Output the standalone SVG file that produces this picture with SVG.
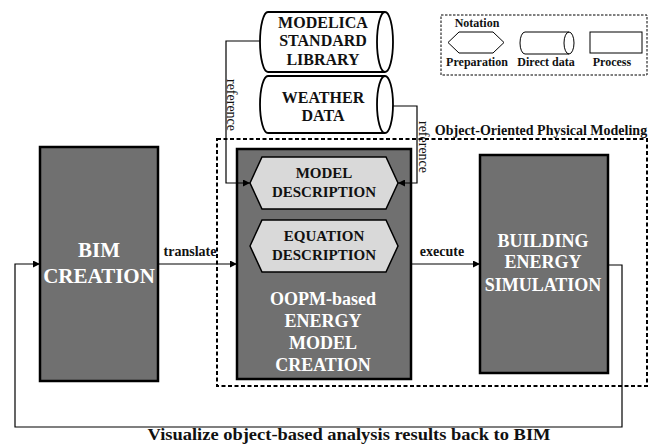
<svg xmlns="http://www.w3.org/2000/svg" width="656" height="444" viewBox="0 0 656 444">
<style>
.t{font-family:"Liberation Serif","Times New Roman",serif;font-weight:bold;text-anchor:middle}
.w{fill:#ffffff}
.k{fill:#111111}
.box{fill:#707070;stroke:#000;stroke-width:2.5}
.hex{fill:#d9d9d9;stroke:#000;stroke-width:1.5}
.cyl{fill:#fff;stroke:#000;stroke-width:1.8}
.ln{fill:none;stroke:#000;stroke-width:1.2}
.dash{fill:none;stroke:#000;stroke-width:2;stroke-dasharray:4 2.5}
.ref{font-family:"Liberation Serif","Times New Roman",serif;font-size:14px;text-anchor:middle;fill:#111}
</style>
<defs>
<marker id="ah" viewBox="0 0 10 10" refX="10" refY="5" markerWidth="7" markerHeight="7" markerUnits="userSpaceOnUse" orient="auto">
<path d="M0,0 L10,5 L0,10 Z" fill="#000"/>
</marker>
</defs>

<g id="oopm-region">
<rect class="dash" x="217" y="139" width="430" height="247"/>
<text class="t k" x="541" y="135" font-size="14">Object-Oriented Physical Modeling</text>
</g>

<g id="notation">
<rect x="441" y="15" width="206" height="60" fill="none" stroke="#000" stroke-width="1" stroke-dasharray="2.5 1.5"/>
<text class="t k" x="477" y="27" font-size="12">Notation</text>
<polygon points="448,42.5 459,32 493,32 504,42.5 493,53 459,53" fill="#fff" stroke="#000" stroke-width="1"/>
<path d="M525,32 H569 A5,11 0 0 1 569,54 H525 A5,11 0 0 1 525,32 Z M569,32 A5,11 0 0 0 569,54" fill="#fff" stroke="#000" stroke-width="1"/>
<rect x="590" y="32" width="52" height="21" fill="#fff" stroke="#000" stroke-width="1"/>
<text class="t k" x="477" y="66" font-size="12">Preparation</text>
<text class="t k" x="546" y="66" font-size="12">Direct data</text>
<text class="t k" x="612" y="66" font-size="12">Process</text>
</g>

<g id="modelica">
<path class="cyl" d="M268,12 H385 A8,30 0 0 1 385,72 H268 A8,30 0 0 1 268,12 Z M385,12 A8,30 0 0 0 385,72"/>
<text class="t k" x="323" y="28" font-size="16">MODELICA</text>
<text class="t k" x="323" y="46" font-size="16">STANDARD</text>
<text class="t k" x="323" y="65" font-size="16">LIBRARY</text>
</g>

<g id="weather">
<path class="cyl" d="M268,76 H385 A8,28.5 0 0 1 385,133 H268 A8,28.5 0 0 1 268,76 Z M385,76 A8,28.5 0 0 0 385,133"/>
<text class="t k" x="323" y="103" font-size="16">WEATHER</text>
<text class="t k" x="323" y="121" font-size="16">DATA</text>
</g>

<g id="bim">
<rect class="box" x="40" y="147" width="118" height="234"/>
<text class="t w" x="99" y="257" font-size="21">BIM</text>
<text class="t w" x="99" y="283" font-size="21">CREATION</text>
</g>

<g id="oopm">
<rect class="box" x="237" y="149" width="174" height="230"/>
<text class="t w" x="323" y="305" font-size="18">OOPM-based</text>
<text class="t w" x="323" y="327" font-size="18">ENERGY</text>
<text class="t w" x="323" y="349" font-size="18">MODEL</text>
<text class="t w" x="323" y="371" font-size="18">CREATION</text>
</g>

<g id="model-description">
<polygon class="hex" points="250,183 262,157 386,157 398,183 386,209 262,209"/>
<text class="t k" x="324" y="178" font-size="15">MODEL</text>
<text class="t k" x="324" y="197" font-size="15">DESCRIPTION</text>
</g>

<g id="equation-description">
<polygon class="hex" points="250,246 262,220 386,220 398,246 386,272 262,272"/>
<text class="t k" x="324" y="241" font-size="15">EQUATION</text>
<text class="t k" x="324" y="260" font-size="15">DESCRIPTION</text>
</g>

<g id="bes">
<rect class="box" x="480" y="155" width="128" height="218"/>
<text class="t w" x="543" y="247" font-size="18">BUILDING</text>
<text class="t w" x="543" y="268" font-size="18">ENERGY</text>
<text class="t w" x="543" y="291" font-size="18">SIMULATION</text>
</g>

<g id="connectors">
<path class="ln" d="M260,41 H226 V183 H250" marker-end="url(#ah)"/>
<text class="ref" transform="translate(227,105) rotate(90)">reference</text>
<path class="ln" d="M393,106 H417 V183 H398" marker-end="url(#ah)"/>
<text class="ref" transform="translate(419,147) rotate(90)">reference</text>
<path class="ln" d="M158,264 H237" marker-end="url(#ah)"/>
<text class="t k" x="190" y="256" font-size="14">translate</text>
<path class="ln" d="M411,264 H480" marker-end="url(#ah)"/>
<text class="t k" x="442" y="256" font-size="14">execute</text>
<path class="ln" d="M608,265 H622 V427 H15 V264 H40" marker-end="url(#ah)"/>
<text class="t k" x="349" y="440" font-size="16" textLength="403" lengthAdjust="spacingAndGlyphs">Visualize object-based analysis results back to BIM</text>
</g>
</svg>
